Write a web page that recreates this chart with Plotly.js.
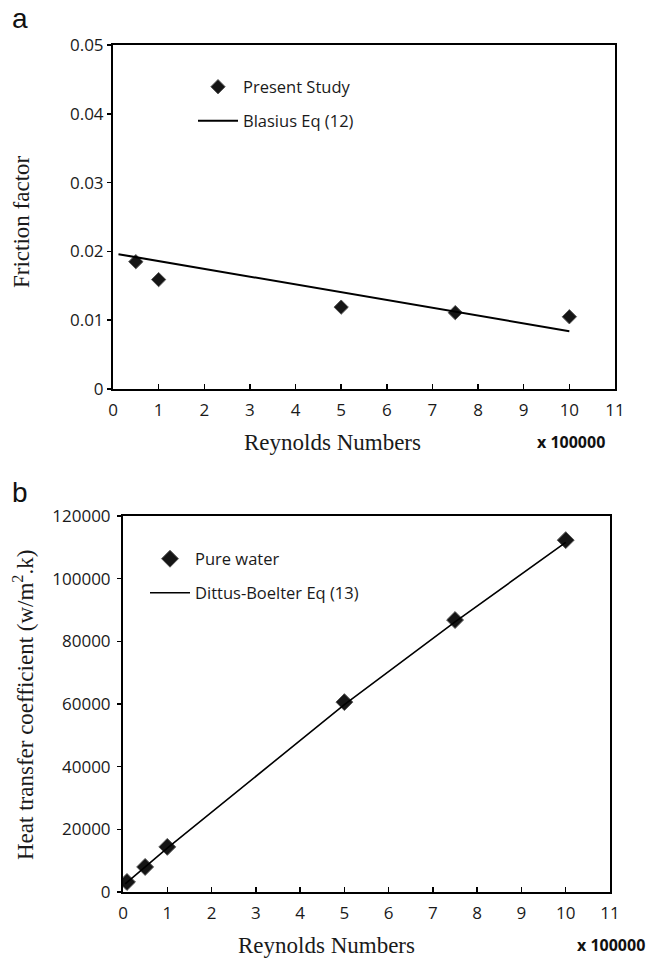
<!DOCTYPE html>
<html>
<head>
<meta charset="utf-8">
<script src="https://cdn.plot.ly/plotly-3.0.1.min.js"></script>
<style>
  html, body { margin: 0; padding: 0; background: #fff; }
  #chart { width: 654px; height: 959px; }
</style>
</head>
<body>
<div id="chart"></div>
<script>
// Panel a: friction factor vs Reynolds number (x 100000)
const reA_measured = [0.5, 1, 5, 7.5, 10];
const frictionMeasured = [0.0185, 0.0159, 0.0119, 0.0111, 0.0105];
const reA_blasius = [0.12, 10];
const frictionBlasius = [0.0196, 0.0084];

// Panel b: heat transfer coefficient vs Reynolds number (x 100000)
const reB_water = [0.09, 0.5, 1, 5, 7.5, 10];
const htcWater = [3200, 8000, 14400, 60600, 86800, 112300];
const reB_dittus = [0.05, 1, 5, 7.5, 10];
const htcDittus = [2600, 14000, 59800, 86200, 111600];

const xTicks = [0, 1, 2, 3, 4, 5, 6, 7, 8, 9, 10, 11];
const yTicksA = [0, 0.01, 0.02, 0.03, 0.04, 0.05];
const yTickTextA = ['0', '0.01', '0.02', '0.03', '0.04', '0.05'];
const yTicksB = [0, 20000, 40000, 60000, 80000, 100000, 120000];
const yTickTextB = ['0', '20000', '40000', '60000', '80000', '100000', '120000'];

const W = 654, H = 959;
const px = x => x / W;
const py = y => 1 - y / H;

const tickFont = { family: 'Open Sans, sans-serif', size: 17, color: '#1a1a1a' };
const legendFont = { family: 'Open Sans, sans-serif', size: 16.5, color: '#1a1a1a' };
const titleFont = { family: 'Liberation Serif, serif', size: 23, color: '#1a1a1a' };
const unitFont = { family: 'Open Sans, sans-serif', size: 16, color: '#111', weight: 'bold' };
const panelFont = { family: 'Liberation Sans, Arial, sans-serif', size: 28, color: '#111' };

function axis(extra) {
  return Object.assign({
    showgrid: false, zeroline: false,
    showline: true, linecolor: '#000', linewidth: 2, mirror: true,
    tickfont: tickFont, tickcolor: '#000', tickwidth: 1.5,
    fixedrange: true
  }, extra);
}

const traces = [
  {
    x: reA_measured, y: frictionMeasured, type: 'scatter', mode: 'markers',
    name: 'Present Study', xaxis: 'x', yaxis: 'y', legend: 'legend2', showlegend: true,
    marker: { symbol: 'diamond', size: 11, color: '#151515', line: { color: '#555', width: 1 } }
  },
  {
    x: reA_blasius, y: frictionBlasius, type: 'scatter', mode: 'lines',
    name: 'Blasius Eq (12)', xaxis: 'x', yaxis: 'y', legend: 'legend3', showlegend: true,
    line: { color: '#000', width: 2 }
  },
  {
    x: reB_water, y: htcWater, type: 'scatter', mode: 'markers',
    name: 'Pure water', xaxis: 'x2', yaxis: 'y2', legend: 'legend4', showlegend: true,
    marker: { symbol: 'diamond', size: 13, color: '#151515', line: { color: '#555', width: 1 } }
  },
  {
    x: reB_dittus, y: htcDittus, type: 'scatter', mode: 'lines',
    name: 'Dittus-Boelter Eq (13)', xaxis: 'x2', yaxis: 'y2', legend: 'legend5', showlegend: true,
    line: { color: '#000', width: 1.6 }
  }
];

function legendAt(x, y) {
  return {
    x: px(x), y: py(y), xanchor: 'left', yanchor: 'middle',
    bgcolor: 'rgba(0,0,0,0)', borderwidth: 0, font: legendFont, itemwidth: 40
  };
}

function note(text, x, y, font, extra) {
  return Object.assign({
    text: text, x: px(x), y: py(y), xref: 'paper', yref: 'paper',
    xanchor: 'center', yanchor: 'middle', showarrow: false, font: font
  }, extra || {});
}

const layout = {
  width: W, height: H,
  margin: { l: 0, r: 0, t: 0, b: 0 },
  paper_bgcolor: '#fff', plot_bgcolor: '#fff',
  showlegend: true,
  xaxis: axis({
    domain: [px(113), px(615)], range: [0, 11], anchor: 'y',
    tickvals: xTicks, ticks: 'inside', ticklen: 5, ticklabelstandoff: 5
  }),
  yaxis: axis({
    domain: [py(389), py(45)], range: [0, 0.05], anchor: 'x',
    tickvals: yTicksA, ticktext: yTickTextA, ticks: 'outside', ticklen: 4
  }),
  xaxis2: axis({
    domain: [px(123), px(610)], range: [0, 11], anchor: 'y2',
    tickvals: xTicks, ticks: 'inside', ticklen: 5, ticklabelstandoff: 5
  }),
  yaxis2: axis({
    domain: [py(892), py(516)], range: [0, 120000], anchor: 'x2',
    tickvals: yTicksB, ticktext: yTickTextB, ticks: 'outside', ticklen: 4, ticklabelstandoff: 3
  }),
  legend2: legendAt(193, 87),
  legend3: legendAt(193, 121),
  legend4: legendAt(145, 559),
  legend5: legendAt(145, 593),
  annotations: [
    note('a', 20, 19, panelFont),
    note('b', 20, 492, panelFont),
    note('Friction factor', 22, 222, titleFont, { textangle: -90 }),
    note('Reynolds Numbers', 332, 442, titleFont),
    note('x 100000', 571, 442, unitFont),
    note('Heat transfer coefficient (w/m<sup>2</sup>.k)', 23, 705, titleFont, { textangle: -90 }),
    note('Reynolds Numbers', 326, 945, titleFont),
    note('x 100000', 611, 945, unitFont)
  ]
};

Plotly.newPlot('chart', traces, layout, { displayModeBar: false, staticPlot: true });
</script>
</body>
</html>
